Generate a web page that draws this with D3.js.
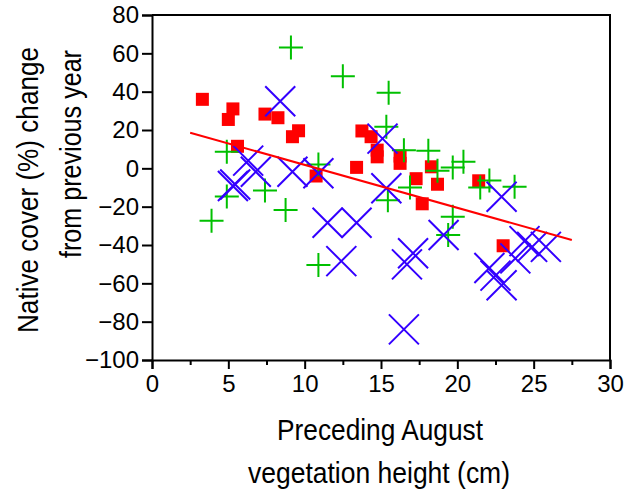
<!DOCTYPE html>
<html>
<head>
<meta charset="utf-8">
<script src="https://cdn.jsdelivr.net/npm/d3@7"></script>
<style>
  body { margin: 0; background: #fff; }
  text { font-family: "Liberation Sans", Arial, sans-serif; fill: #000; }
</style>
</head>
<body>
<svg id="chart" width="625" height="493"></svg>
<script>
// red squares
var squaresX = [3.3, 5.0, 5.3, 5.6, 7.4, 8.25, 9.2, 9.6, 10.75, 13.4, 13.75, 14.35, 14.75, 14.75, 16.25, 16.25, 17.3, 17.7, 18.3, 18.7, 21.4, 23.0];
var squaresY = [36, 25.5, 31, 11.5, 28.3, 26.4, 16.5, 19.6, -4, 0.5, 19.5, 16.5, 9.5, 6, 6.4, 2.6, -5.4, -18.5, 0.8, -8.3, -6.5, -40.4];

// green plus
var plusX = [9.1, 4.9, 12.5, 15.5, 15.35, 16.5, 18.1, 19.7, 18.7, 10.9, 16.9, 20.4, 22.1, 21.5, 23.75, 19.7, 19.4, 15.45, 10.9, 4.9, 3.9, 7.4, 8.75];
var plusY = [63, 8.7, 48, 39.4, 21.7, 9.5, 9.2, 0.5, -1.2, 2, -10, 3.4, -6.3, -10, -9.6, -25.3, -34.8, -16.7, -50.4, -14.7, -27.3, -11.5, -21.8];

// blue crosses
var crossX = [8.4, 15.1, 6.3, 6.8, 5.3, 5.45, 9.2, 10.9, 15.35, 11.5, 13.4, 12.4, 17.1, 16.7, 16.5, 19.1, 22.9, 22.1, 22.5, 22.9, 23.8, 24.4, 24.9, 25.8];
var crossY = [35, 15.5, 4, -1.8, -9.2, -8.4, -1.8, -2.6, -10.4, -28.4, -28.4, -48.4, -44.3, -50.1, -84, -34.8, -14.8, -52, -56, -61, -47, -38, -41, -41];

// fitted line end points
var fitX = [2.5, 27.5];
var fitY = [18.6, -37.4];

var xTicks = [0, 5, 10, 15, 20, 25, 30];
var xMinorTicks = [2.5, 7.5, 12.5, 17.5, 22.5, 27.5];
var yTicks = [80, 60, 40, 20, 0, -20, -40, -60, -80, -100];

var svg = d3.select("#chart");
var pLeft = 152, pRight = 610, pTop = 15, pBottom = 360;

var x = d3.scaleLinear().domain([0, 30]).range([pLeft, pRight]);
var y = d3.scaleLinear().domain([-100, 80]).range([pBottom, pTop]);

// frame top + right
svg.append("path")
    .attr("d", "M" + pLeft + "," + pTop + "H" + pRight + "V" + pBottom)
    .attr("fill", "none").attr("stroke", "#000").attr("stroke-width", 2);

// x axis
var xAxis = svg.append("g").attr("transform", "translate(0," + pBottom + ")")
    .call(d3.axisBottom(x).tickValues(xTicks).tickSize(9).tickPadding(6).tickFormat(d3.format("d")));
xAxis.selectAll("text").style("font-size", "24px").style("font-family", "Liberation Sans, Arial, sans-serif");
svg.append("g").attr("transform", "translate(0," + pBottom + ")")
    .call(d3.axisBottom(x).tickValues(xMinorTicks).tickSize(5).tickFormat(""))
    .select(".domain").remove();

// y axis
var yAxis = svg.append("g").attr("transform", "translate(" + pLeft + ",0)")
    .call(d3.axisLeft(y).tickValues(yTicks).tickSize(10).tickPadding(3).tickFormat(d3.format("d")));
yAxis.selectAll("text").style("font-size", "24px").style("font-family", "Liberation Sans, Arial, sans-serif");

svg.selectAll(".domain").attr("stroke-width", 2);
svg.selectAll(".tick line").attr("stroke-width", 2);

// markers
svg.append("g").selectAll("rect").data(d3.range(squaresX.length)).join("rect")
    .attr("x", function(i) { return x(squaresX[i]) - 6.5; })
    .attr("y", function(i) { return y(squaresY[i]) - 6.5; })
    .attr("width", 13).attr("height", 13)
    .attr("fill", "#ff0000");

svg.append("g").selectAll("path").data(d3.range(plusX.length)).join("path")
    .attr("transform", function(i) { return "translate(" + x(plusX[i]) + "," + y(plusY[i]) + ")"; })
    .attr("d", "M-12,0H12M0,-12V12")
    .attr("stroke", "#00c000").attr("stroke-width", 2).attr("fill", "none");

svg.append("g").selectAll("path").data(d3.range(crossX.length)).join("path")
    .attr("transform", function(i) { return "translate(" + x(crossX[i]) + "," + y(crossY[i]) + ")"; })
    .attr("d", "M-15,-15L15,15M-15,15L15,-15")
    .attr("stroke", "#3300ff").attr("stroke-width", 2).attr("fill", "none");

// regression line
svg.append("line")
    .attr("x1", x(fitX[0])).attr("y1", y(fitY[0]))
    .attr("x2", x(fitX[1])).attr("y2", y(fitY[1]))
    .attr("stroke", "#ff0000").attr("stroke-width", 2);

// axis titles
svg.append("text").attr("x", 380).attr("y", 440).attr("text-anchor", "middle")
    .style("font-size", "29px").attr("textLength", 206).attr("lengthAdjust", "spacingAndGlyphs")
    .text("Preceding August");
svg.append("text").attr("x", 379).attr("y", 483).attr("text-anchor", "middle")
    .style("font-size", "29px").attr("textLength", 262).attr("lengthAdjust", "spacingAndGlyphs")
    .text("vegetation height (cm)");

svg.append("text").attr("transform", "translate(38,190) rotate(-90)").attr("text-anchor", "middle")
    .style("font-size", "29px").attr("textLength", 286).attr("lengthAdjust", "spacingAndGlyphs")
    .text("Native cover (%) change");
svg.append("text").attr("transform", "translate(81,154) rotate(-90)").attr("text-anchor", "middle")
    .style("font-size", "29px").attr("textLength", 208).attr("lengthAdjust", "spacingAndGlyphs")
    .text("from previous year");
</script>
</body>
</html>
